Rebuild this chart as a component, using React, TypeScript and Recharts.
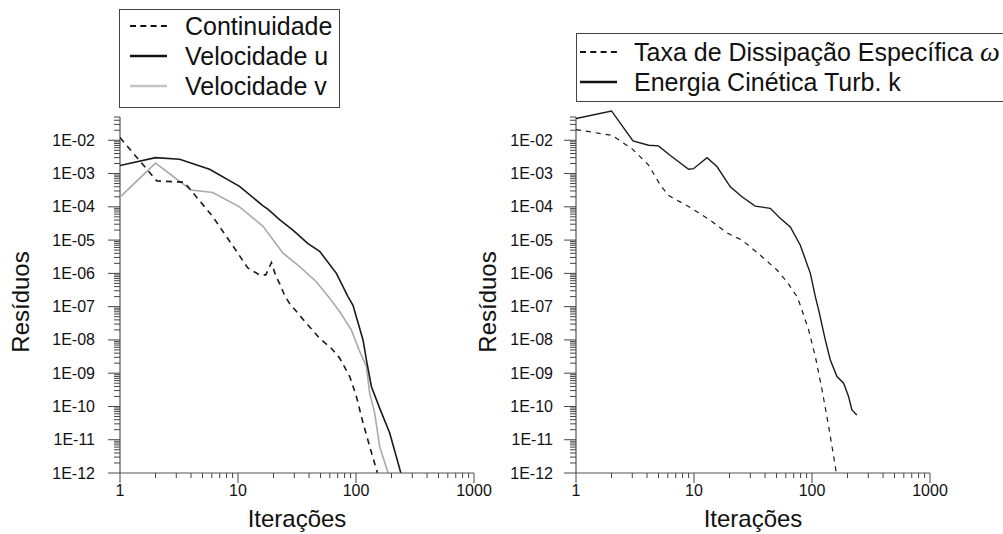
import React from 'react';
import { LineChart, Line, XAxis, YAxis, Legend, ReferenceLine, Label } from 'recharts';

const FONT = '"Liberation Sans", Arial, Helvetica, sans-serif';
const AXIS = '#555555';
const TICK = '#444444';
const TEXT = '#111111';

// ---------- axis ticks ----------
const xMajorTicks = [1, 10, 100, 1000];
const xTickLabels = ['1', '10', '100', '1000'];
const yMajorTicks = [1e-12, 1e-11, 1e-10, 1e-9, 1e-8, 1e-7, 1e-6, 1e-5, 1e-4, 1e-3, 1e-2];
const yTickLabels = ['1E-12', '1E-11', '1E-10', '1E-09', '1E-08', '1E-07', '1E-06', '1E-05', '1E-04', '1E-03', '1E-02'];
const minorMultipliers = [2, 3, 4, 5, 6, 7, 8, 9];
const yAxisTop = 0.05;
const yDomain = [1e-12, 0.1];
const xDomain = [1, 1000];

// ---------- left panel series ----------
const seriesNamesLeft = ['Continuidade', 'Velocidade u', 'Velocidade v'];
const continuidadeIter = [1, 2.05, 3.5, 6.1, 9.1, 12.1, 15.2, 17.2, 19.2, 21, 22.5, 24.8, 27.3, 37.9, 49.2, 61.8, 72.8, 88.5, 100.8, 114.7, 130.6, 149, 152];
const continuidadeRes = [1.2e-2, 6e-4, 5.5e-4, 5.1e-5, 6.5e-6, 1.45e-6, 9e-7, 9e-7, 2.1e-6, 8e-7, 5e-7, 2.2e-7, 1.26e-7, 3.2e-8, 1.12e-8, 5.6e-9, 2.8e-9, 7.9e-10, 2e-10, 3.2e-11, 6.3e-12, 1.26e-12, 1e-12];
const velUIter = [1, 2, 3.2, 5.74, 10.3, 16.3, 17.9, 22.5, 29.2, 39.2, 49.2, 68.2, 85.5, 94.3, 114.7, 122.5, 135, 158.6, 193, 240];
const velURes = [1.75e-3, 3.0e-3, 2.7e-3, 1.35e-3, 4.1e-4, 1.07e-4, 8.5e-5, 4.1e-5, 2e-5, 7.8e-6, 4.6e-6, 1.0e-6, 2e-7, 1.1e-7, 1e-8, 2.5e-9, 4e-10, 8.9e-11, 1.6e-11, 1e-12];
const velVIter = [1, 2, 4.0, 6.1, 10.3, 16.3, 24, 33.3, 46.1, 59.8, 72.8, 91.3, 107.5, 122.5, 130.6, 144, 158.6, 187];
const velVRes = [1.95e-4, 2.05e-3, 3.2e-4, 2.7e-4, 1.0e-4, 2.6e-5, 4.1e-6, 1.6e-6, 5.6e-7, 1.8e-7, 7e-8, 2e-8, 4.5e-9, 1.6e-9, 2.5e-10, 6.3e-11, 6.3e-12, 1e-12];

// ---------- right panel series ----------
const seriesNamesRight = ['Taxa de Dissipação Específica ', 'Energia Cinética Turb. k'];
const omegaSymbol = 'ω';
const omegaIter = [1, 2.02, 2.98, 4.12, 5.18, 6.09, 9.3, 13.7, 19, 25.5, 36.5, 50.5, 61.3, 74.6, 79.6, 93.6, 106.7, 121.6, 138.4, 157.6, 160];
const omegaRes = [2.1e-2, 1.4e-2, 5.6e-3, 1.8e-3, 4.5e-4, 2.2e-4, 9.5e-5, 4e-5, 1.65e-5, 1e-5, 3.5e-6, 1.26e-6, 5.6e-7, 2e-7, 1.1e-7, 2e-8, 3.2e-9, 3.2e-10, 2.5e-11, 1.6e-12, 1e-12];
const kIter = [1, 2, 3.04, 4.12, 5.0, 6.3, 9.0, 9.9, 12.9, 15.7, 20.3, 25.5, 33, 44.3, 53.8, 65.5, 79.6, 96.8, 106.7, 113.8, 129.6, 143, 162.8, 185.4, 204, 218, 240];
const kRes = [4.5e-2, 7.6e-2, 9.5e-3, 7.1e-3, 6.8e-3, 3.5e-3, 1.35e-3, 1.4e-3, 3e-3, 1.6e-3, 4e-4, 2e-4, 1.05e-4, 9e-5, 4.5e-5, 2.5e-5, 7e-6, 1e-6, 2e-7, 8e-8, 1e-8, 2.5e-9, 7.9e-10, 5e-10, 2e-10, 7.9e-11, 5.5e-11];

const axisTitleX = 'Iterações';
const axisTitleY = 'Resíduos';

// ---------- helpers ----------
const toPoints = (xs: number[], ys: number[]) => xs.map((x, i) => ({ x, y: ys[i] }));

const xTicks: number[] = [];
xMajorTicks.forEach((m, i) => {
  xTicks.push(m);
  if (i < xMajorTicks.length - 1) minorMultipliers.forEach((k) => xTicks.push(m * k));
});
const yTicks: number[] = [];
yMajorTicks.forEach((m) => {
  yTicks.push(m);
  minorMultipliers.forEach((k) => {
    if (m * k <= yAxisTop * 1.0001) yTicks.push(m * k);
  });
});

const majorIndex = (v: number, majors: number[]) =>
  majors.findIndex((m) => Math.abs(Math.log10(v) - Math.log10(m)) < 1e-6);

const makeYTick = (labelGap: number) => (props: any) => {
  const { x, y, payload } = props;
  const idx = majorIndex(payload.value, yMajorTicks);
  const len = idx >= 0 ? 12 : 6;
  return (
    <g>
      <path d={`M${x - len},${y}H${x}`} stroke={TICK} strokeWidth={1} fill="none" />
      {idx >= 0 && (
        <text x={x - labelGap} y={y + 5.5} textAnchor="end" fontSize={16} fontFamily={FONT} fill={TEXT}>
          {yTickLabels[idx]}
        </text>
      )}
    </g>
  );
};

const XTick = (props: any) => {
  const { x, y, payload } = props;
  const idx = majorIndex(payload.value, xMajorTicks);
  const len = idx >= 0 ? 10 : 5;
  return (
    <g>
      <path d={`M${x},${y}V${y + len}`} stroke={TICK} strokeWidth={1} fill="none" />
      {idx >= 0 && (
        <text x={x} y={y + 23} textAnchor="middle" fontSize={16} fontFamily={FONT} fill={TEXT}>
          {xTickLabels[idx]}
        </text>
      )}
    </g>
  );
};

const makeYTitle = (dx: number) => (props: any) => {
  const vb = props.viewBox || {};
  const cx = vb.x + vb.width + dx;
  const cy = 302;
  return (
    <text x={cx} y={cy} textAnchor="middle" fontSize={24} fontFamily={FONT} fill={TEXT} transform={`rotate(-90, ${cx}, ${cy})`}>
      {axisTitleY}
    </text>
  );
};

const XTitle = (props: any) => {
  const vb = props.viewBox || {};
  return (
    <text x={vb.x + vb.width / 2} y={vb.y + 54} textAnchor="middle" fontSize={24} fontFamily={FONT} fill={TEXT}>
      {axisTitleX}
    </text>
  );
};

type LegendItem = { label: React.ReactNode; color: string; width: number; dash?: string };

const LegendBox = ({ items, width, height, padLeft, gap, padTop }: { items: LegendItem[]; width: number; height: number; padLeft: number; gap: number; padTop: number }) => (
  <div
    style={{
      width,
      height,
      boxSizing: 'border-box',
      border: '1px solid #444',
      background: '#fff',
      paddingLeft: padLeft,
      paddingTop: padTop,
      fontFamily: FONT,
      fontSize: 25,
      color: TEXT,
      lineHeight: '30px',
    }}
  >
    {items.map((it, i) => (
      <div key={i} style={{ display: 'flex', alignItems: 'center', height: 30, whiteSpace: 'nowrap' }}>
        <svg width={37} height={10} style={{ flex: 'none' }}>
          <line x1={0} y1={5} x2={37} y2={5} stroke={it.color} strokeWidth={it.width} strokeDasharray={it.dash} />
        </svg>
        <span style={{ marginLeft: gap }}>{it.label}</span>
      </div>
    ))}
  </div>
);

const leftItems: LegendItem[] = [
  { label: seriesNamesLeft[0], color: '#111', width: 2.2, dash: '6 4.3' },
  { label: seriesNamesLeft[1], color: '#111', width: 2.6 },
  { label: seriesNamesLeft[2], color: '#c4c4c4', width: 2.6 },
];
const rightItems: LegendItem[] = [
  {
    label: (
      <>
        {seriesNamesRight[0]}
        <span style={{ fontFamily: '"Liberation Serif", "DejaVu Serif", serif', fontStyle: 'italic', fontSize: 28 }}>{omegaSymbol}</span>
      </>
    ),
    color: '#111',
    width: 2,
    dash: '6 4.3',
  },
  { label: seriesNamesRight[1], color: '#111', width: 2.6 },
];

export default function App() {
  return (
    <div style={{ position: 'absolute', left: 0, top: 0, width: 1003, height: 534, overflow: 'hidden', background: '#fff' }}>
      <div style={{ position: 'absolute', left: 0, top: 0 }}>
        <LineChart width={501} height={534} margin={{ top: 107, right: 27, bottom: 0, left: 0 }}>
          <XAxis
            dataKey="x"
            type="number"
            scale="log"
            domain={xDomain}
            allowDataOverflow
            ticks={xTicks}
            interval={0}
            tickSize={0}
            tickMargin={0}
            tickLine={false}
            tick={XTick}
            height={61}
            axisLine={{ stroke: AXIS, strokeWidth: 1.2 }}
            label={<Label content={XTitle} />}
          />
          <YAxis
            dataKey="y"
            type="number"
            scale="log"
            domain={yDomain}
            allowDataOverflow
            ticks={yTicks}
            interval={0}
            tickSize={0}
            tickMargin={0}
            tickLine={false}
            tick={makeYTick(25)}
            width={120}
            axisLine={false}
            label={<Label content={makeYTitle(-91.5)} />}
          />
          <ReferenceLine segment={[{ x: 1, y: 1e-12 }, { x: 1, y: yAxisTop }]} stroke={AXIS} strokeWidth={1.2} ifOverflow="visible" />
          <Legend
            layout="vertical"
            align="center"
            verticalAlign="middle"
            wrapperStyle={{ left: 119, top: 9, width: 221, height: 99 }}
            content={() => <LegendBox items={leftItems} width={221} height={99} padLeft={10} gap={18} padTop={1} />}
          />
          <Line data={toPoints(velVIter, velVRes)} dataKey="y" name={seriesNamesLeft[2]} stroke="#a9a9a9" strokeWidth={1.6} dot={false} type="linear" isAnimationActive={false} />
          <Line data={toPoints(velUIter, velURes)} dataKey="y" name={seriesNamesLeft[1]} stroke="#1a1a1a" strokeWidth={1.6} dot={false} type="linear" isAnimationActive={false} />
          <Line data={toPoints(continuidadeIter, continuidadeRes)} dataKey="y" name={seriesNamesLeft[0]} stroke="#1a1a1a" strokeWidth={1.6} strokeDasharray="6 5" dot={false} type="linear" isAnimationActive={false} />
        </LineChart>
      </div>
      <div style={{ position: 'absolute', left: 456, top: 0 }}>
        <LineChart width={547} height={534} margin={{ top: 107, right: 73, bottom: 0, left: 0 }}>
          <XAxis
            dataKey="x"
            type="number"
            scale="log"
            domain={xDomain}
            allowDataOverflow
            ticks={xTicks}
            interval={0}
            tickSize={0}
            tickMargin={0}
            tickLine={false}
            tick={XTick}
            height={61}
            axisLine={{ stroke: AXIS, strokeWidth: 1.2 }}
            label={<Label content={XTitle} />}
          />
          <YAxis
            dataKey="y"
            type="number"
            scale="log"
            domain={yDomain}
            allowDataOverflow
            ticks={yTicks}
            interval={0}
            tickSize={0}
            tickMargin={0}
            tickLine={false}
            tick={makeYTick(23)}
            width={120}
            axisLine={false}
            label={<Label content={makeYTitle(-80)} />}
          />
          <ReferenceLine segment={[{ x: 1, y: 1e-12 }, { x: 1, y: yAxisTop }]} stroke={AXIS} strokeWidth={1.2} ifOverflow="visible" />
          <Legend
            layout="vertical"
            align="center"
            verticalAlign="middle"
            wrapperStyle={{ left: 120, top: 33, width: 440, height: 69 }}
            content={() => <LegendBox items={rightItems} width={440} height={69} padLeft={3} gap={17} padTop={3} />}
          />
          <Line data={toPoints(kIter, kRes)} dataKey="y" name={seriesNamesRight[1]} stroke="#1a1a1a" strokeWidth={1.4} dot={false} type="linear" isAnimationActive={false} />
          <Line data={toPoints(omegaIter, omegaRes)} dataKey="y" name={seriesNamesRight[0]} stroke="#1a1a1a" strokeWidth={1.2} strokeDasharray="5 5" dot={false} type="linear" isAnimationActive={false} />
        </LineChart>
      </div>
    </div>
  );
}
